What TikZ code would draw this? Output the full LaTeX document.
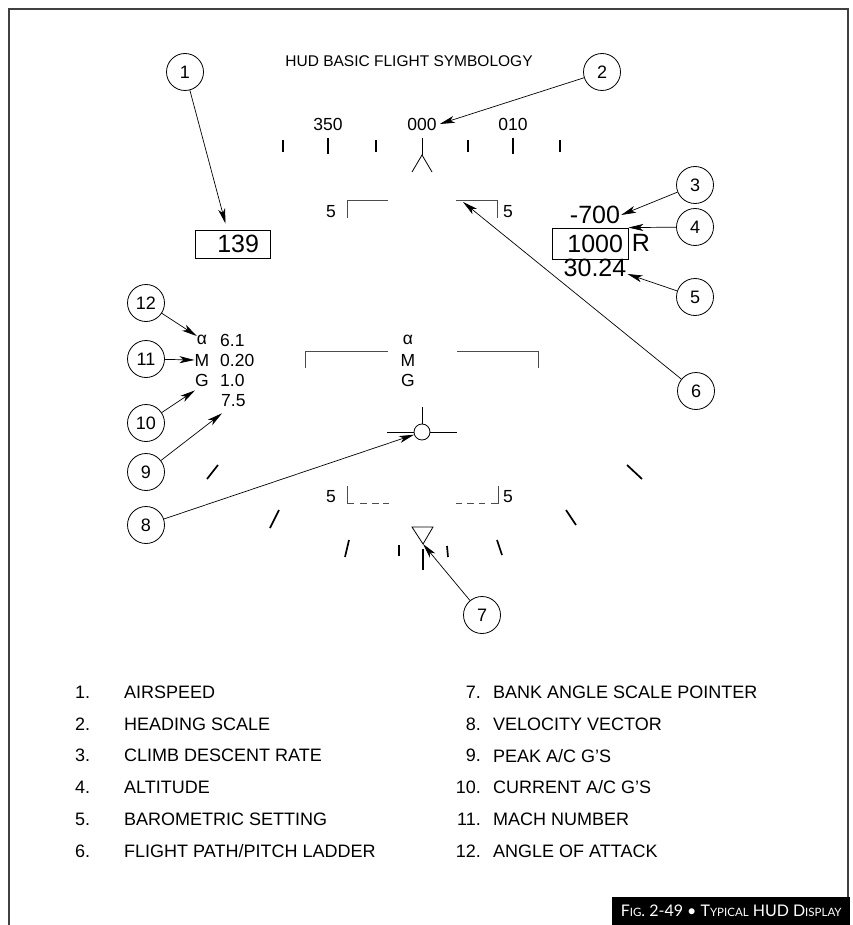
\documentclass[tikz,border=0pt]{standalone}
\usepackage{fontspec}
\setmainfont{Liberation Sans}
\newfontfamily\capfont{Lato}
\usetikzlibrary{arrows.meta}
\begin{document}
\begin{tikzpicture}[x=1pt,y=-1pt,
  callout/.style={circle,draw,line width=0.8pt,minimum size=37pt,inner sep=0pt,font=\fontsize{18}{18}\selectfont},
  lead/.style={line width=0.7pt,-{Stealth[length=15pt,width=7pt,inset=4pt]}},
  hud/.style={font=\fontsize{17.5}{17.5}\selectfont,inner sep=0pt},
  big/.style={font=\fontsize{25}{25}\selectfont,inner sep=0pt},
  tickmark/.style={line width=1.7pt},
  ladder/.style={line width=1pt,draw=black!70},
  legnum/.style={font=\fontsize{18}{18}\selectfont,inner sep=0pt},
  legtxt/.style={font=\fontsize{18}{18}\selectfont,inner sep=0pt,anchor=west},
  ]
\useasboundingbox (0,0) rectangle (852,925);
% frame
\draw[line width=1.5pt,black!75] (9,925) -- (9,9) -- (848,9) -- (848,897);
% caption
\node[fill=black,text=white,minimum width=238pt,minimum height=28pt,inner sep=0pt,anchor=north west,
  font=\capfont\fontsize{16}{16}\selectfont] (cap) at (612,897)
  {F{\fontsize{11.5}{11.5}\selectfont IG}. 2-49 \textbullet\ T{\fontsize{11.5}{11.5}\selectfont YPICAL} HUD D{\fontsize{11.5}{11.5}\selectfont ISPLAY}};
% title
\node[font=\fontsize{15.5}{15.5}\selectfont,inner sep=0pt] (title) at (409,61) {HUD BASIC FLIGHT SYMBOLOGY};
% heading scale
\node[hud] (h350) at (328,124) {350};
\node[hud] (h000) at (422,124) {000};
\node[hud] (h010) at (513,124) {010};
\foreach \x in {283,376,468,560} \draw[tickmark] (\x,140) -- (\x,152);
\foreach \x in {328,513} \draw[tickmark] (\x,138) -- (\x,154);
\draw[line width=1pt] (422,138) -- (422,155);
\draw[line width=0.8pt] (412,172) -- (422,155) -- (432,172);
% top ladder
\draw[ladder] (347,218) -- (347,201) -- (388,201);
\draw[ladder] (456,201) -- (497,201) -- (497,218);
\node[hud] (t5l) at (331,212) {5};
\node[hud] (t5r) at (508,212) {5};
\coordinate (p6) at (463,202);
% middle ladder
\draw[ladder] (305,368) -- (305,351) -- (388,351);
\draw[ladder] (457,351) -- (538,351) -- (538,368);
\node[hud] (ma) at (408,340) {α};
\node[hud] (mm) at (408,360) {M};
\node[hud] (mg) at (408,380) {G};
% velocity vector
\node[circle,draw,minimum size=16pt,inner sep=0pt,line width=0.8pt] (vv) at (422,432) {};
\draw[line width=0.8pt] (387,432) -- (vv.west) (vv.east) -- (457,432) (vv.north) -- (422,407);
% bottom ladder
\draw[ladder] (347,486) -- (347,503) -- (354,503);
\draw[ladder] (360,503) -- (367,503) (372,503) -- (379,503) (383,503) -- (389,503);
\draw[ladder] (456,503) -- (462,503) (467,503) -- (474,503) (479,503) -- (485,503);
\draw[ladder] (491,503) -- (498,503) -- (498,486);
\node[hud] (b5l) at (331,497) {5};
\node[hud] (b5r) at (508,497) {5};
% bank scale
\draw[tickmark] (207,479) -- (218,465);
\draw[tickmark] (270,528) -- (279,510);
\draw[tickmark] (345,557) -- (349,540);
\draw[tickmark] (399,545) -- (399,556);
\draw[tickmark] (423,549) -- (423,570);
\draw[tickmark] (447,546) -- (448,557);
\draw[tickmark] (497,540) -- (502,555);
\draw[tickmark] (566,510) -- (576,525);
\draw[tickmark] (627,465) -- (642,479);
\draw[line width=0.8pt] (412,527) -- (433,527) -- (423,544) -- cycle;
\coordinate (bp) at (423,544);
% left data
\node[hud] (la) at (202,340) {α};
\node[hud,anchor=west] (lav) at (220,340) {6.1};
\node[hud] (lm) at (202,360) {M};
\node[hud,anchor=west] (lmv) at (220,360) {0.20};
\node[hud] (lg) at (202,380) {G};
\node[hud,anchor=west] (lgv) at (220,380) {1.0};
\node[hud,anchor=west] (lpk) at (221,401) {7.5};
% airspeed
\node[big,draw,line width=0.8pt,minimum height=28pt,text width=53pt,align=right,inner xsep=11pt,inner ysep=0pt] (spd) at (232.5,244) {139};
% right data
\node[big] (vs) at (595,215) {-700};
\node[big,draw,line width=0.8pt,minimum height=31pt,text width=66pt,align=right,inner xsep=5pt,inner ysep=0pt] (alt) at (590,243.5) {1000};
\node[big] (altr) at (641,243) {R};
\node[big] (baro) at (595,268) {30.24};
% callouts
\node[callout] (c1) at (185,72) {1};
\node[callout] (c2) at (602,72) {2};
\node[callout] (c3) at (695,185) {3};
\node[callout] (c4) at (695,227) {4};
\node[callout] (c5) at (695,297) {5};
\node[callout] (c6) at (696,391) {6};
\node[callout] (c7) at (482,615) {7};
\node[callout] (c8) at (146,525) {8};
\node[callout] (c9) at (146,472) {9};
\node[callout] (c10) at (146,423) {10};
\node[callout] (c11) at (146,359) {11};
\node[callout] (c12) at (146,303) {12};
% leaders
\draw[lead] (c1) -- ([xshift=-7pt,yshift=6pt]spd.north);
\draw[lead] (c2) -- ([xshift=3pt]h000.east);
\draw[lead] (c3) -- ([xshift=1pt]vs.east);
\draw[lead] (c4) -- (alt.north east);
\draw[lead] (c5) -- ([yshift=-6pt,xshift=1pt]baro.east);
\draw[lead] (c6) -- (p6);
\draw[lead] (c7) -- (bp);
\draw[lead] (c8) -- (vv);
\draw[lead] (c9) -- ([xshift=1pt,yshift=-6pt]lpk.south west);
\draw[lead] (c10) -- ([yshift=-4pt]lg.south west);
\draw[lead] (c11) -- (lm.west);
\draw[lead] (c12) -- ([yshift=4pt]la.west);
% legend
\foreach \n/\t [count=\i from 0] in {1/AIRSPEED,2/HEADING SCALE,3/CLIMB DESCENT RATE,4/ALTITUDE,5/BAROMETRIC SETTING,6/FLIGHT PATH\slash PITCH LADDER}
{
  \node[legnum,anchor=west] (ln\n) at (75,692+31.8*\i) {\n.};
  \node[legtxt] (lt\n) at (124,692+31.8*\i) {\t};
}
\foreach \n/\t [count=\i from 0] in {7/BANK ANGLE SCALE POINTER,8/VELOCITY VECTOR,9/PEAK A\slash C G'S,10/CURRENT A\slash C G'S,11/MACH NUMBER,12/ANGLE OF ATTACK}
{
  \node[legnum,anchor=east] (ln\n) at (481,692+31.8*\i) {\n.};
  \node[legtxt] (lt\n) at (493,692+31.8*\i) {\t};
}
\end{tikzpicture}
\end{document}
